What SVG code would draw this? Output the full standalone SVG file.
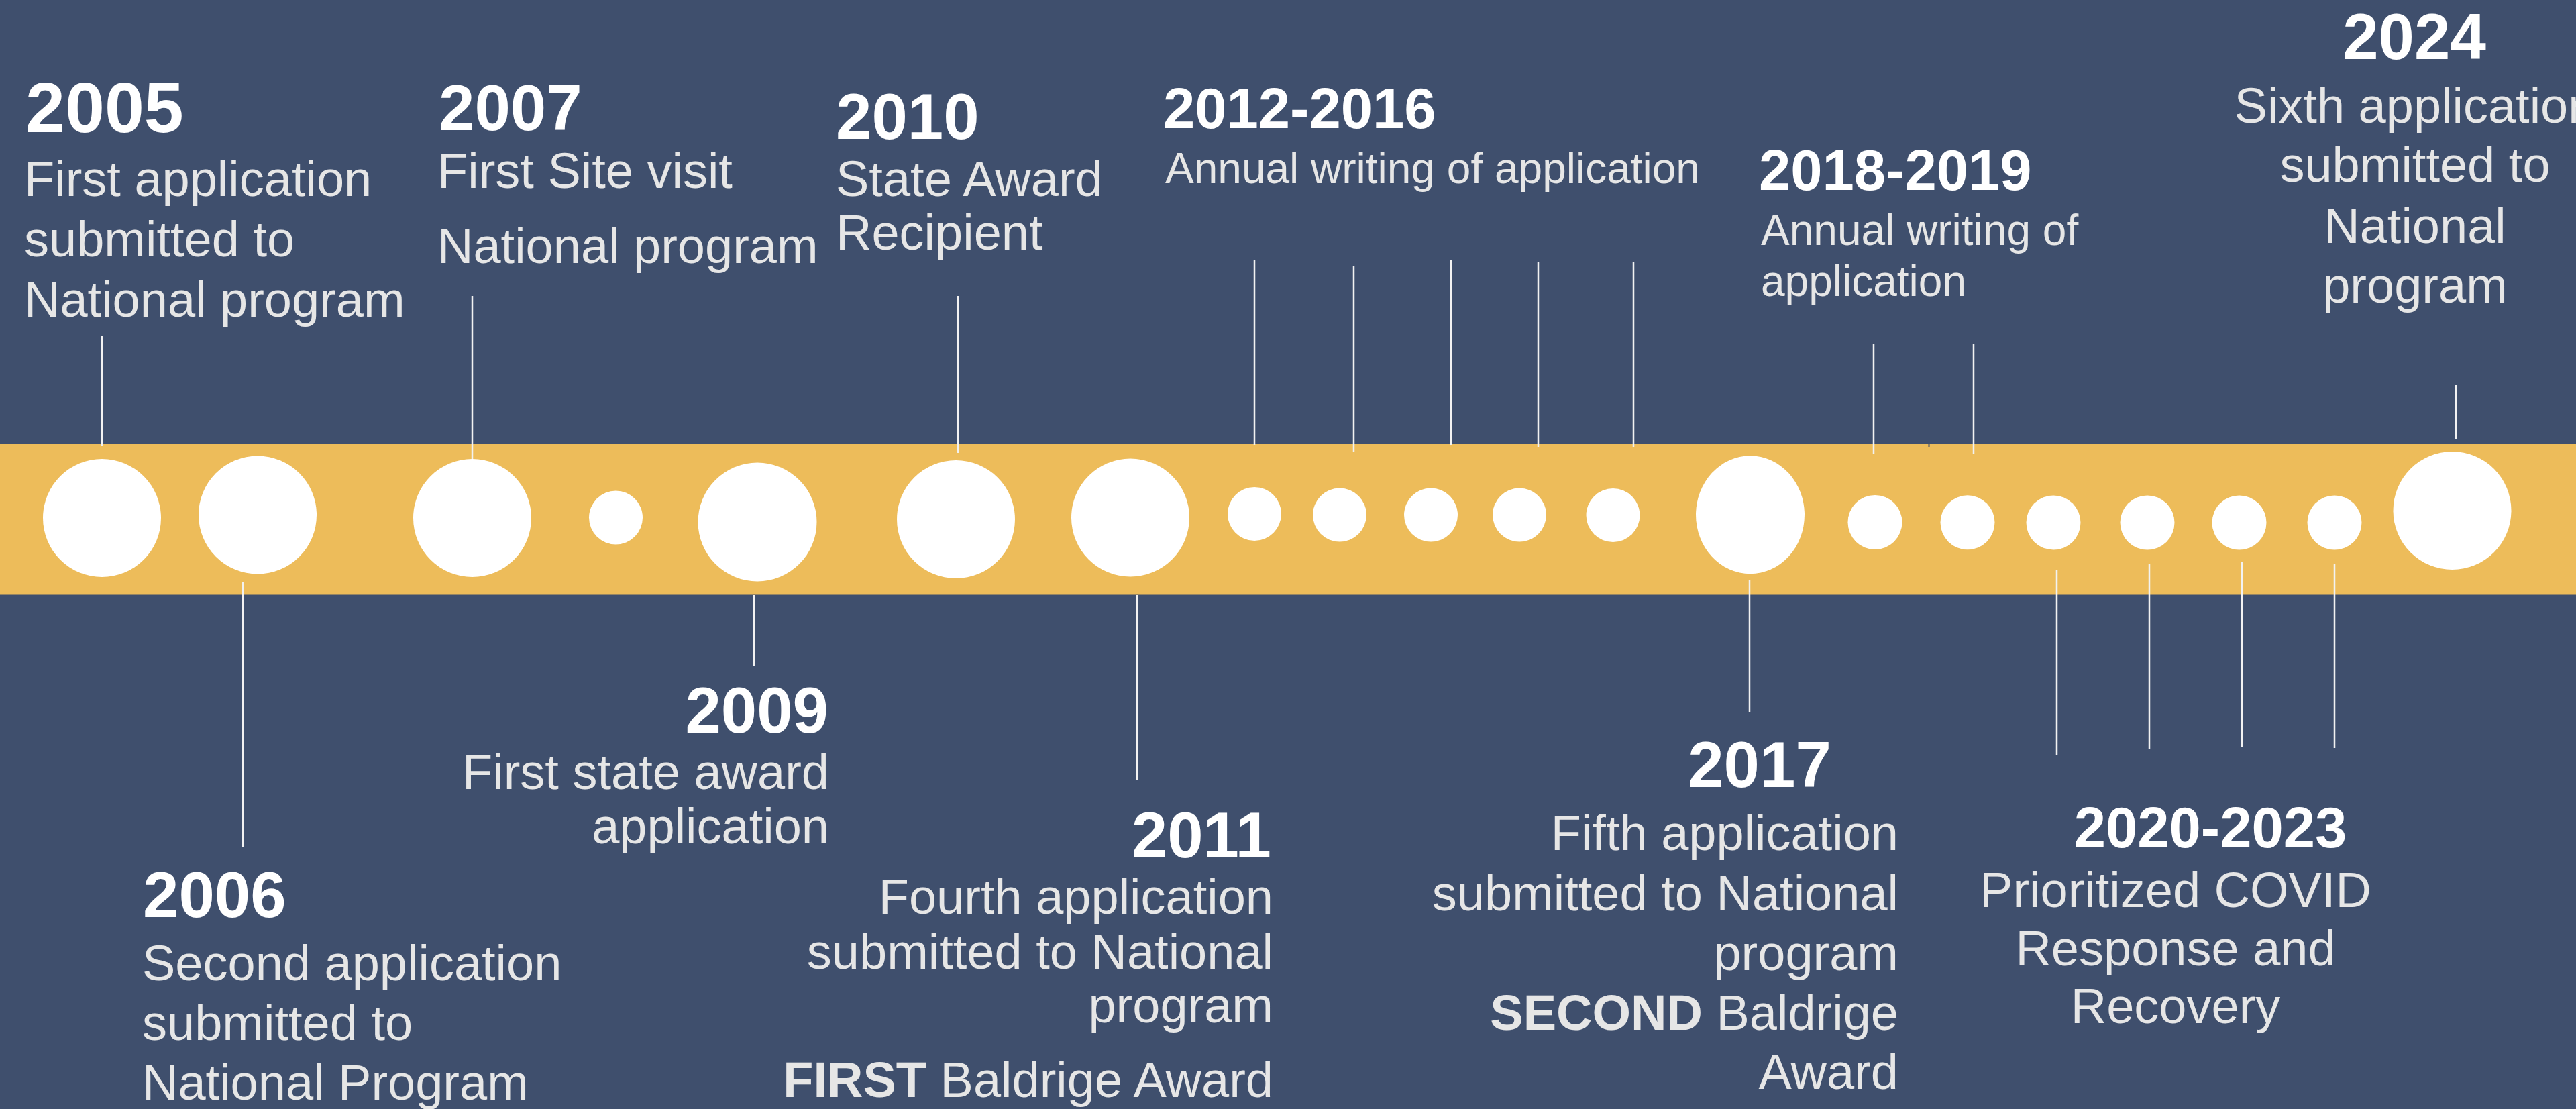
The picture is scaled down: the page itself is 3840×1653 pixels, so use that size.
<svg xmlns="http://www.w3.org/2000/svg" width="3840" height="1653" viewBox="0 0 3840 1653">
  <style>
    text { font-family: "Liberation Sans", Arial, sans-serif; }
    .yr { font-weight: 700; fill: #ffffff; font-size: 96px; }
    .yr-big { font-size: 106px; }
    .yr-range { font-size: 85px; }
    .desc { fill: #e6e6e6; font-size: 74px; }
    .desc-sm { font-size: 64px; }
    .b { font-weight: 700; }
    .end { text-anchor: end; }
    .mid { text-anchor: middle; }
    .conn line { stroke: #f2f2f2; stroke-width: 2.5; }
    .dot { fill: #ffffff; }
  </style>

  <!-- background and timeline band -->
  <rect x="0" y="0" width="3840" height="1653" fill="#3f4f6d"/>
  <rect id="band" x="0" y="662" width="3840" height="224.5" fill="#edbc5a"/>

  <!-- connectors between markers and labels -->
  <g id="connectors" class="conn">
    <line x1="152" y1="501" x2="152" y2="665"/>
    <line x1="704" y1="441" x2="704" y2="684"/>
    <line x1="1428" y1="441" x2="1428" y2="675"/>
    <line x1="1870" y1="388" x2="1870" y2="664"/>
    <line x1="2018" y1="396" x2="2018" y2="673"/>
    <line x1="2163" y1="388" x2="2163" y2="664"/>
    <line x1="2293" y1="391" x2="2293" y2="667"/>
    <line x1="2435" y1="391" x2="2435" y2="667"/>
    <line x1="2793" y1="513" x2="2793" y2="677"/>
    <line x1="2942" y1="513" x2="2942" y2="677"/>
    <line x1="3661" y1="574" x2="3661" y2="654"/>
    <line x1="2875.5" y1="662" x2="2875.5" y2="667" style="stroke:#3f4f6d;stroke-width:2"/>
    <line x1="362" y1="868" x2="362" y2="1263"/>
    <line x1="1124" y1="887" x2="1124" y2="992"/>
    <line x1="1695" y1="887" x2="1695" y2="1162"/>
    <line x1="2608" y1="864" x2="2608" y2="1061"/>
    <line x1="3066" y1="850" x2="3066" y2="1125"/>
    <line x1="3204" y1="840" x2="3204" y2="1116"/>
    <line x1="3342" y1="837" x2="3342" y2="1113"/>
    <line x1="3480" y1="840" x2="3480" y2="1115"/>
  </g>

  <!-- timeline markers -->
  <g id="markers">
    <circle class="dot" cx="152" cy="772" r="88"/>
    <circle class="dot" cx="384" cy="767.5" r="88"/>
    <circle class="dot" cx="704" cy="772" r="88"/>
    <circle class="dot" cx="918" cy="771.5" r="40"/>
    <circle class="dot" cx="1129" cy="778" r="88.5"/>
    <circle class="dot" cx="1425" cy="774" r="88"/>
    <circle class="dot" cx="1685" cy="771.5" r="88"/>
    <circle class="dot" cx="1870" cy="766" r="40"/>
    <circle class="dot" cx="1997" cy="767.5" r="40"/>
    <circle class="dot" cx="2133" cy="767.5" r="40"/>
    <circle class="dot" cx="2265" cy="767.5" r="40"/>
    <circle class="dot" cx="2404.5" cy="768" r="40"/>
    <ellipse class="dot" cx="2609" cy="767.3" rx="81" ry="88"/>
    <circle class="dot" cx="2795" cy="778.5" r="40.5"/>
    <circle class="dot" cx="2933" cy="778.8" r="40.5"/>
    <circle class="dot" cx="3061" cy="779" r="40.5"/>
    <circle class="dot" cx="3201" cy="779" r="40.5"/>
    <circle class="dot" cx="3338" cy="779" r="40.5"/>
    <circle class="dot" cx="3480" cy="779" r="40.5"/>
    <circle class="dot" cx="3655.5" cy="761" r="88"/>
  </g>

  <!-- labels above the band -->
  <g id="e2005">
    <text class="yr yr-big" x="38" y="197">2005</text>
    <text class="desc" x="36" y="292">First application</text>
    <text class="desc" x="36" y="382">submitted to</text>
    <text class="desc" x="36" y="472">National program</text>
  </g>
  <g id="e2007">
    <text class="yr" x="654" y="194">2007</text>
    <text class="desc" x="652" y="280">First Site visit</text>
    <text class="desc" x="652" y="392">National program</text>
  </g>
  <g id="e2010">
    <text class="yr" x="1246" y="207">2010</text>
    <text class="desc" x="1246" y="292">State Award</text>
    <text class="desc" x="1246" y="372">Recipient</text>
  </g>
  <g id="e2012-2016">
    <text class="yr yr-range" x="1734" y="191">2012-2016</text>
    <text class="desc desc-sm" x="1737" y="273">Annual writing of application</text>
  </g>
  <g id="e2018-2019">
    <text class="yr yr-range" x="2622" y="283">2018-2019</text>
    <text class="desc desc-sm" x="2625" y="364.5">Annual writing of</text>
    <text class="desc desc-sm" x="2625" y="441">application</text>
  </g>
  <g id="e2024">
    <text class="yr mid" x="3599" y="88">2024</text>
    <text class="desc mid" x="3600" y="182.5">Sixth application</text>
    <text class="desc mid" x="3600" y="271">submitted to</text>
    <text class="desc mid" x="3600" y="361.5">National</text>
    <text class="desc mid" x="3600" y="450.5">program</text>
  </g>

  <!-- labels below the band -->
  <g id="e2006">
    <text class="yr" x="213" y="1367">2006</text>
    <text class="desc" x="212" y="1461">Second application</text>
    <text class="desc" x="212" y="1550">submitted to</text>
    <text class="desc" x="212" y="1638.5">National Program</text>
  </g>
  <g id="e2009">
    <text class="yr end" x="1235" y="1092">2009</text>
    <text class="desc end" x="1236" y="1176">First state award</text>
    <text class="desc end" x="1236" y="1257">application</text>
  </g>
  <g id="e2011">
    <text class="yr end" x="1895" y="1277.5">2011</text>
    <text class="desc end" x="1898" y="1362">Fourth application</text>
    <text class="desc end" x="1898" y="1444">submitted to National</text>
    <text class="desc end" x="1898" y="1524">program</text>
    <text class="desc end" x="1898" y="1635"><tspan class="b">FIRST</tspan> Baldrige Award</text>
  </g>
  <g id="e2017">
    <text class="yr mid" x="2623" y="1172.5">2017</text>
    <text class="desc end" x="2830" y="1267">Fifth application</text>
    <text class="desc end" x="2830" y="1357">submitted to National</text>
    <text class="desc end" x="2830" y="1445.5">program</text>
    <text class="desc end" x="2830" y="1534.5"><tspan class="b">SECOND</tspan> Baldrige</text>
    <text class="desc end" x="2830" y="1623">Award</text>
  </g>
  <g id="e2020-2023">
    <text class="yr yr-range mid" x="3295" y="1263">2020-2023</text>
    <text class="desc mid" x="3243" y="1351.5">Prioritized COVID</text>
    <text class="desc mid" x="3243" y="1438.5">Response and</text>
    <text class="desc mid" x="3243" y="1525">Recovery</text>
  </g>
</svg>
